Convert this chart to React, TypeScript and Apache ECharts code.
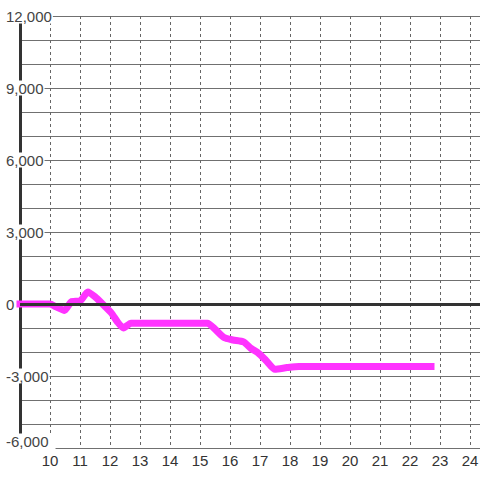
import React, { useEffect, useRef } from "react";
import * as echarts from "echarts";

const hours = [9, 10, 10.2, 10.48, 10.72, 11.0, 11.26, 11.5, 11.75, 12.05, 12.25, 12.45, 12.7, 15.25, 15.5, 15.8, 16.1, 16.45, 16.7, 16.95, 17.2, 17.5, 17.9, 18.3, 22.7];
const values = [0, 0, -120, -270, 100, 120, 500, 300, 0, -380, -750, -1000, -800, -800, -1050, -1400, -1500, -1580, -1850, -2050, -2350, -2720, -2650, -2600, -2600];
const yMin = -6000;
const yMax = 12000;
const yStep = 1000;
const yLabelStep = 3000;
const xMin = 9;
const xMax = 24.4;

export default function App() {
  const ref = useRef<HTMLDivElement>(null);
  useEffect(() => {
    if (!ref.current) return;
    const chart = echarts.init(ref.current, undefined, { renderer: "svg" });
    const font = "'Liberation Sans', Arial, sans-serif";
    chart.setOption({
      animation: false,
      backgroundColor: "#ffffff",
      grid: { left: 20, top: 16, width: 462, height: 432, containLabel: false, outerBoundsMode: "none" },
      xAxis: {
        type: "value",
        min: xMin,
        max: xMax,
        interval: 1,
        axisLine: { show: false },
        axisTick: { show: false },
        axisLabel: {
          color: "#333",
          fontSize: 15,
          fontFamily: font,
          margin: 5,
          formatter: (v: number) => (v === 9 || !Number.isInteger(v) ? "" : String(v)),
        },
        splitLine: { show: true, lineStyle: { color: "#666", width: 1, type: [3, 3] } },
      },
      yAxis: {
        type: "value",
        min: yMin,
        max: yMax,
        interval: yStep,
        axisLine: { show: true, onZero: false, lineStyle: { color: "#333", width: 3 } },
        axisTick: { show: false },
        axisLabel: {
          color: "#444",
          fontSize: 15,
          fontFamily: font,
          align: "left",
          margin: 14,
          formatter: (v: number) => {
            if (v % yLabelStep !== 0) return "";
            const s = v.toLocaleString("en-US");
            return v === yMin ? "{m|" + s + "}" : "{n|" + s + "}";
          },
          rich: {
            n: { color: "#444", fontSize: 15, fontFamily: font, backgroundColor: "#fff", padding: [0, 1, 0, 0] },
            m: { color: "#444", fontSize: 15, fontFamily: font, backgroundColor: "#fff", padding: [0, 7, 14, 0] },
          },
        },
        splitLine: { show: true, lineStyle: { color: "#707070", width: 1 } },
      },
      series: [
        {
          type: "line",
          data: [],
          z: 1,
          silent: true,
          markLine: {
            silent: true,
            symbol: "none",
            label: { show: false },
            lineStyle: { color: "#333", width: 3, type: "solid" },
            data: [{ yAxis: 0 }],
          },
        },
        {
          type: "line",
          z: 3,
          data: hours.map((h, i) => [h, values[i]]),
          showSymbol: false,
          smooth: 0.2,
          lineStyle: { color: "#ff33ff", width: 7, cap: "square", join: "round" },
        },
      ],
    });
    return () => chart.dispose();
  }, []);
  return <div ref={ref} style={{ position: "fixed", left: 0, top: 0, width: 480, height: 480 }} />;
}
